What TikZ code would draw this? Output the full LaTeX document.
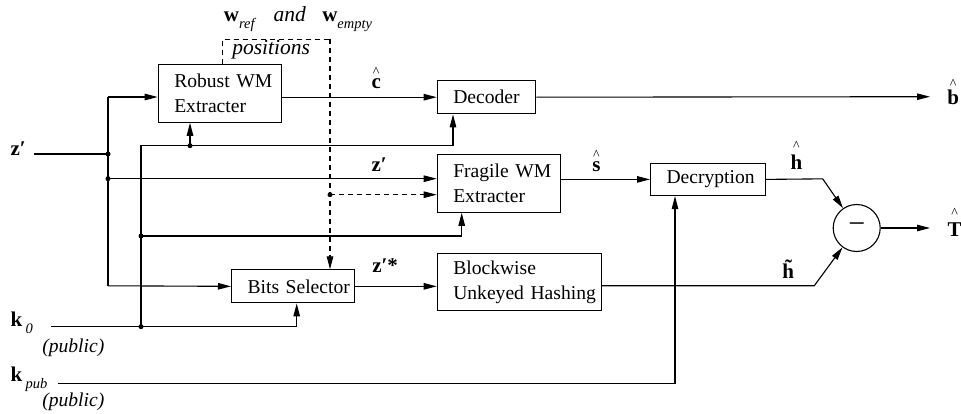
\documentclass[tikz,border=0pt]{standalone}
\usepackage{fontspec}
\setmainfont{Liberation Serif}
\usetikzlibrary{arrows.meta}

% bold letter with a small caret stacked above it; #2 = gap under the caret
\newcommand\hatbf[2]{\leavevmode\vbox{\offinterlineskip\halign{\hfil##\hfil\cr
  \fontsize{14}{14}\mdseries\selectfont\textasciicircum\cr\noalign{\kern#2}#1\cr}}}
\newcommand\subit[1]{\raisebox{-7pt}{\fontsize{14.5}{15}\mdseries\itshape\selectfont #1}}

\begin{document}
\begin{tikzpicture}[x=1pt,y=-1pt,
  line width=1.1pt,
  blk/.style={draw, rectangle, anchor=north west, inner xsep=16pt, inner ysep=0pt,
    align=left, font=\fontsize{19.6}{25}\selectfont},
  arr/.style={-{Triangle[length=13pt,width=6.5pt]}},
  dsh/.style={dash pattern=on 5pt off 4pt},
  dot/.style={circle, fill, inner sep=0pt, minimum size=5pt},
  vec/.style={anchor=base west, inner sep=0pt, font=\fontsize{21}{25}\bfseries\selectfont},
  note/.style={anchor=base west, inner sep=0pt, font=\fontsize{19.6}{24}\itshape\selectfont},
]
\useasboundingbox (0,0) rectangle (961,414);

% processing blocks
\node[blk, text width=91,   minimum height=57.4] (rob)  at (157.7,64.3)  {\mbox{Robust WM}\\Extracter};
\node[blk, text width=66.6, minimum height=33.3] (dec)  at (436.7,80)    {Decoder};
\node[blk, text width=91.3, minimum height=57.4] (frag) at (436.7,154.3) {\mbox{Fragile WM}\\Extracter};
\node[blk, text width=83,   minimum height=32.3] (decr) at (650,162.7)   {\mbox{Decryption}};
\node[blk, text width=91.3, minimum height=33]   (bits) at (231,269.3)   {\mbox{Bits Selector}};
\node[blk, text width=132.3,minimum height=57.3] (hash) at (436.7,252.7) {Blockwise\\\mbox{Unkeyed Hashing}};
\node[draw, circle, minimum size=47, inner sep=0pt] (sub) at (856.7,228)
  {\fontsize{30}{30}\selectfont −};

% input bus for z'
\coordinate (zin) at (34,154);
\coordinate (ja) at (108,97);
\coordinate (jz) at (108,154);
\coordinate (jb) at (108,178.7);
\coordinate (jc) at (108,285.8);
\draw (zin) -- (jz);
\draw (ja) -- (jc);
\draw[arr] (ja) -- (ja -| rob.west);
\draw[arr] (jb) -- (jb -| frag.west);
\draw[arr] (jc) -- (bits.west);
\node[dot] (djz) at (jz) {};
\node[dot] (djb) at (jb) {};

% key k0 distribution
\coordinate (kin)   at (51,326.7);
\coordinate (ka)    at (141,326.7);
\coordinate (kb)    at (141,236);
\coordinate (kc)    at (141,145.7);
\coordinate (kd)    at (190,145.7);
\coordinate (kdec)  at (453,145.7);
\coordinate (kfrag) at (461.7,236);
\coordinate (kbits) at (296.7,326.7);
\draw[arr] (kin) -- (kbits) -- (kbits |- bits.south);
\draw[arr] (ka) -- (kc) -- (kdec) -- (kdec |- dec.south);
\draw[arr] (kd) -- (kd |- rob.south);
\draw[arr] (kb) -- (kfrag) -- (kfrag |- frag.south);
\node[dot] (dka) at (ka) {};
\node[dot] (dkb) at (kb) {};
\node[dot] (dkd) at (kd) {};

% watermark positions (dashed)
\coordinate (da) at (222.7,39.3);
\coordinate (db) at (330,39.3);
\coordinate (dc) at (330,194.7);
\draw[dsh] (da |- rob.north) -- (da) -- (db);
\draw[dsh,arr] (db) -- (db |- bits.north);
\draw[dsh,arr] (dc) -- (dc -| frag.west);
\node[dot] (ddc) at (dc) {};

% public key
\coordinate (pin) at (58.3,383.3);
\coordinate (pc)  at (675,383.3);
\draw[arr] (pin) -- (pc) -- (pc |- decr.south);

% data paths
\coordinate (bout)  at (930,96.7);
\coordinate (hbend) at (822.7,178.85);
\coordinate (tbend) at (814.3,285.7);
\coordinate (tout)  at (930,228);
\draw[arr] (rob.east |- dec.west) -- (dec.west);
\draw[arr] (dec.east) -- (bout);
\draw[arr] (frag.east |- decr.west) -- (decr.west);
\draw[arr] (decr.east) -- (hbend) -- (sub);
\draw[arr] (bits.east) -- (bits.east -| hash.west);
\draw[arr] (hash.east |- tbend) -- (tbend) -- (sub);
\draw[arr] (sub.east) -- (tout);

% signal labels
\node[vec] (lz)   at (10,156)      {z′};
\node[vec] (lc)   at (371,89)      {\hatbf{c}{3pt}};
\node[vec] (lz2)  at (371,171.7)   {z′};
\node[vec] (ls)   at (591.7,171.7) {\hatbf{s}{2pt}};
\node[vec] (lh)   at (790,170)     {\hatbf{h}{5pt}};
\node[vec] (lb)   at (946.7,105)   {\hatbf{b}{2pt}};
\node[vec] (lt)   at (947,236.7)   {\hatbf{T}{5pt}};
\node[vec] (lht)  at (781.7,278.3) {\~{h}};
\node[vec] (lzs)  at (371.7,272)   {z′*};
\node[vec] (lk0)  at (10,326)      {k\,\subit{0}};
\node[note] (pub1) at (41.7,352)   {(public)};
\node[vec] (lkp)  at (10,381)      {k\,\subit{pub}};
\node[note] (pub2) at (41.7,406)   {(public)};

% positions label on top
\node[vec] (lwr)  at (223.3,22)    {w\subit{ref}};
\node[note, font=\fontsize{21.5}{24}\itshape\selectfont] (land) at (273,22) {and};
\node[vec] (lwe)  at (321.7,22)    {w\subit{empty}};
\node[note, font=\fontsize{21.5}{24}\itshape\selectfont] (lpos) at (231.7,55) {positions};
\end{tikzpicture}
\end{document}
